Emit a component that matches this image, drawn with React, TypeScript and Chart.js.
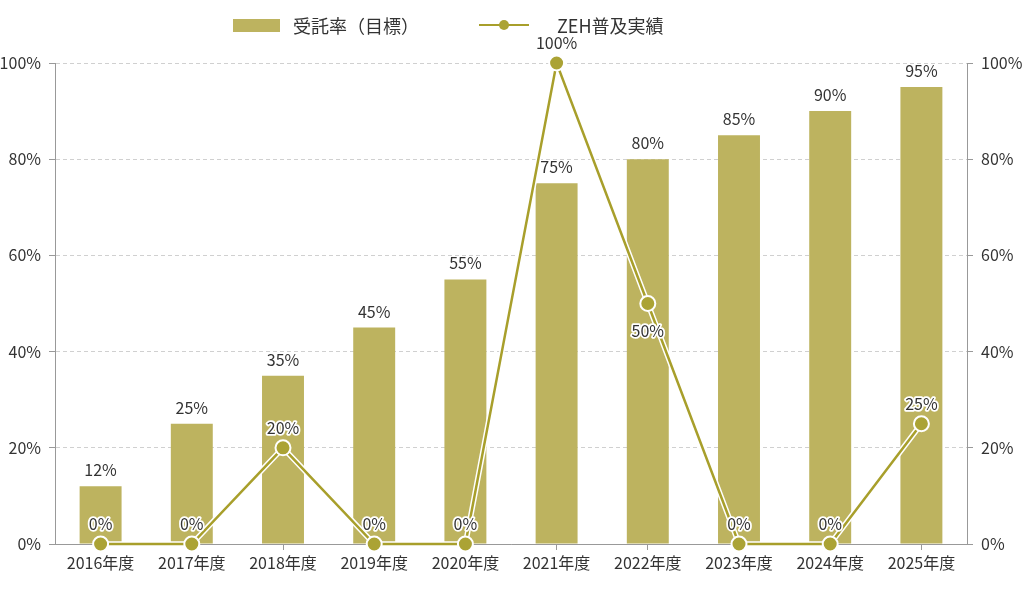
import React, { useEffect, useRef } from "react";
import { Chart, registerables } from "chart.js";

Chart.register(...registerables);

const years = ["2016年度", "2017年度", "2018年度", "2019年度", "2020年度", "2021年度", "2022年度", "2023年度", "2024年度", "2025年度"];
const targetRate = [12, 25, 35, 45, 55, 75, 80, 85, 90, 95];
const zehActual = [0, 0, 20, 0, 0, 100, 50, 0, 0, 25];
const yTicks = [0, 20, 40, 60, 80, 100];

const barColor = "#bdb35f";
const lineColor = "#a89f2b";
const pointColor = "#aba335";
const textColor = "#333";
const fontFamily = "'Noto Sans CJK JP', 'Noto Sans', sans-serif";

const valueLabels = {
  id: "valueLabels",
  afterDatasetsDraw(chart: any) {
    const ctx = chart.ctx;
    ctx.save();
    ctx.font = `16px ${fontFamily}`;
    ctx.textAlign = "center";
    ctx.textBaseline = "alphabetic";
    // bar labels
    const barMeta = chart.getDatasetMeta(0);
    barMeta.data.forEach((bar: any, i: number) => {
      ctx.fillStyle = textColor;
      ctx.fillText(`${targetRate[i]}%`, bar.x, bar.y - 10);
    });
    // line labels with white halo
    const lineMeta = chart.getDatasetMeta(2);
    lineMeta.data.forEach((pt: any, i: number) => {
      const below = i === 6;
      const y = below ? pt.y + 33 : pt.y - 14;
      ctx.lineWidth = 3.5;
      ctx.strokeStyle = "#fff";
      ctx.lineJoin = "round";
      ctx.strokeText(`${zehActual[i]}%`, pt.x, y);
      ctx.fillStyle = textColor;
      ctx.fillText(`${zehActual[i]}%`, pt.x, y);
    });
    ctx.restore();
  },
};

const App: React.FC = () => {
  const chartRef = useRef<HTMLCanvasElement | null>(null);

  useEffect(() => {
    document.body.style.margin = "0";
    if (!chartRef.current) return;

    const yAxis = (position: "left" | "right") => ({
      type: "linear" as const,
      position,
      min: 0,
      max: 100,
      afterFit: (scale: any) => {
        scale.width = position === "left" ? 55 : 57;
      },
      afterBuildTicks: (scale: any) => {
        scale.ticks = yTicks.map((v) => ({ value: v }));
      },
      ticks: {
        color: textColor,
        font: { family: fontFamily, size: 16 },
        padding: 8,
        callback: (v: any) => `${v}%`,
      },
      border: { display: true, color: "#999", dash: [4, 3] },
      grid: {
        display: true,
        drawOnChartArea: position === "left",
        color: "#d0d0d0",
        tickLength: 6,
        tickColor: "#999",
      },
    });

    const chart = new Chart(chartRef.current, {
      type: "bar",
      data: {
        labels: years,
        datasets: [
          {
            type: "bar",
            label: "受託率（目標）",
            data: targetRate,
            backgroundColor: barColor,
            barPercentage: 0.92,
            categoryPercentage: 0.5,
            yAxisID: "y",
            order: 3,
          },
          {
            type: "line",
            label: "halo",
            data: zehActual,
            borderColor: "#fff",
            borderWidth: 5.5,
            pointRadius: 0,
            clip: false,
            yAxisID: "y",
            order: 2,
          },
          {
            type: "line",
            label: "ZEH普及実績",
            data: zehActual,
            borderColor: lineColor,
            borderWidth: 2.5,
            pointRadius: 7.5,
            pointBackgroundColor: pointColor,
            pointBorderColor: "#fff",
            pointBorderWidth: 2,
            clip: false,
            yAxisID: "y",
            order: 1,
          },
        ] as any,
      },
      options: {
        animation: false,
        responsive: false,
        layout: { padding: { top: 63, bottom: 0, left: 0, right: 0 } },
        plugins: {
          legend: { display: false },
          tooltip: { enabled: false },
        },
        scales: {
          x: {
            afterFit: (scale: any) => {
              scale.height = 48;
            },
            ticks: {
              color: textColor,
              font: { family: fontFamily, size: 16 },
              padding: 3,
            },
            border: { display: true, color: "#999" },
            grid: {
              offset: false,
              drawOnChartArea: false,
              tickLength: 6,
              tickColor: "#999",
            },
          },
          y: yAxis("left") as any,
          y2: yAxis("right") as any,
        },
      },
      plugins: [valueLabels],
    });

    return () => {
      chart.destroy();
    };
  }, []);

  return (
    <div style={{ position: "relative", width: 1024, height: 592, fontFamily, background: "#fff" }}>
      <div
        style={{
          position: "absolute",
          top: 12,
          left: 233,
          display: "flex",
          alignItems: "center",
          fontSize: 18,
          color: textColor,
          height: 26,
        }}
      >
        <span style={{ display: "inline-block", width: 47, height: 13, background: barColor }} />
        <span style={{ marginLeft: 13 }}>受託率（目標）</span>
        <span style={{ position: "relative", display: "inline-block", width: 50, height: 14, marginLeft: 60 }}>
          <span style={{ position: "absolute", left: 0, right: 0, top: 6, height: 2, background: lineColor }} />
          <span
            style={{
              position: "absolute",
              left: 20,
              top: 2,
              width: 10,
              height: 10,
              borderRadius: "50%",
              background: pointColor,
            }}
          />
        </span>
        <span style={{ marginLeft: 28 }}>ZEH普及実績</span>
      </div>
      <canvas ref={chartRef} width={1024} height={592} style={{ width: 1024, height: 592 }} />
    </div>
  );
};

export default App;
